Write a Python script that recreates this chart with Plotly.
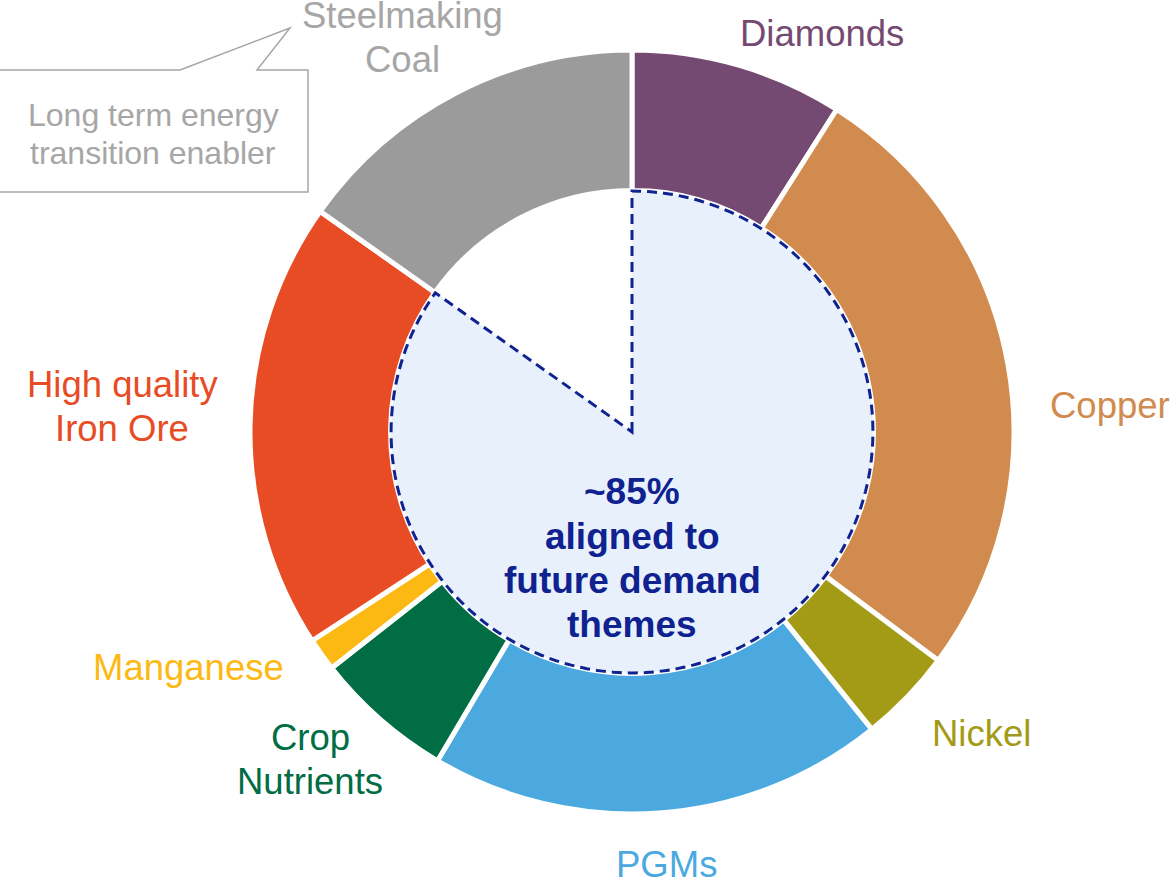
import math
import plotly.graph_objects as go

# ---------------- data ----------------
categories = ["Diamonds", "Copper", "Nickel", "PGMs", "Crop Nutrients",
              "Manganese", "High quality Iron Ore", "Steelmaking Coal"]
shares = [9.0, 26.2, 4.0, 19.3, 5.9, 1.4, 19.0, 15.2]
slice_colors = ["#754A72", "#D18B4E", "#A39A16", "#4CA9DF", "#006D44",
                "#FDB913", "#E84C25", "#9B9B9B"]
label_colors = ["#754A72", "#D18B4E", "#A39A16", "#4CA9DF", "#006D44",
                "#FDB913", "#E84C25", "#A6A6A6"]
label_lines = [["Diamonds"], ["Copper"], ["Nickel"], ["PGMs"], ["Crop", "Nutrients"],
               ["Manganese"], ["High quality", "Iron Ore"], ["Steelmaking", "Coal"]]
center_lines = ["~85%", "aligned to", "future demand", "themes"]
callout_lines = ["Long term energy", "transition enabler"]

# ---------------- layout constants (pixels) ----------------
W, H = 1175, 883
CX, CY = 632, 432
R_OUT = 382
HOLE = 0.632
R_IN = R_OUT * HOLE - 0.5
FONT = "Liberation Sans, Arial, sans-serif"
NAVY = "#0F2290"

# label anchor positions (center x, first-line center y), pixel coords
label_pos = [(822, 33), (1110, 405), (981, 733), (666, 864), (310, 737),
             (188, 667), (122, 384), (402, 16)]
LINE_H = 44


def px(x):
    return x / W


def py(y):
    return 1 - y / H


fig = go.Figure()
fig.add_trace(go.Pie(
    labels=categories, values=shares, sort=False, direction="clockwise",
    rotation=0, hole=HOLE, textinfo="none", hoverinfo="label+percent",
    marker=dict(colors=slice_colors, line=dict(color="white", width=5)),
    domain=dict(x=[px(CX - R_OUT), px(CX + R_OUT)],
                y=[py(CY + R_OUT), py(CY - R_OUT)]),
    showlegend=False,
))

# central sector covering everything except the coal share
aligned = sum(shares[:-1]) / sum(shares)
end_ang = aligned * 2 * math.pi
pts = [(CX, CY)]
n = 240
for i in range(n + 1):
    a = end_ang * i / n
    pts.append((CX + R_IN * math.sin(a), CY - R_IN * math.cos(a)))
path = "M " + " L ".join(f"{px(x):.5f},{py(y):.5f}" for x, y in pts) + " Z"

shapes = [dict(type="path", path=path, xref="paper", yref="paper",
               fillcolor="#E8F1FB", line=dict(color=NAVY, width=3, dash="10px,6px"),
               layer="above")]

# callout box
cb = [(-3, 70), (180, 70), (290, 28), (257, 70), (308, 70), (308, 192), (-3, 192)]
cpath = "M " + " L ".join(f"{px(x):.5f},{py(y):.5f}" for x, y in cb) + " Z"
shapes.append(dict(type="path", path=cpath, xref="paper", yref="paper",
                   fillcolor="white", line=dict(color="#A6A6A6", width=1.5)))

annotations = []
for lines, (lx, ly), col in zip(label_lines, label_pos, label_colors):
    for k, t in enumerate(lines):
        annotations.append(dict(x=px(lx), y=py(ly + k * LINE_H), xref="paper", yref="paper",
                                text=t, showarrow=False, xanchor="center", yanchor="middle",
                                font=dict(family=FONT, size=36.5, color=col)))

for k, t in enumerate(center_lines):
    annotations.append(dict(x=px(CX), y=py(492 + k * 44), xref="paper", yref="paper",
                            text=f"<b>{t}</b>", showarrow=False, xanchor="center",
                            yanchor="middle",
                            font=dict(family=FONT, size=37, color=NAVY)))

for k, t in enumerate(callout_lines):
    annotations.append(dict(x=px(153), y=py(115 + k * 38), xref="paper", yref="paper",
                            text=t, showarrow=False, xanchor="center", yanchor="middle",
                            font=dict(family=FONT, size=32, color="#A6A6A6")))

fig.update_layout(
    width=W, height=H, margin=dict(l=0, r=0, t=0, b=0),
    paper_bgcolor="white", plot_bgcolor="white",
    shapes=shapes, annotations=annotations,
)

fig.write_html("out.html", config={"displayModeBar": False},
               post_script="document.body.style.margin='0px';")
